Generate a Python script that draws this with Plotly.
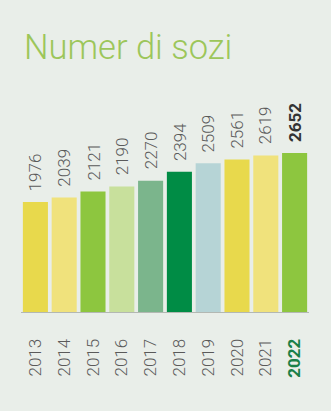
import plotly.graph_objects as go

# Membership by year
years = ["2013", "2014", "2015", "2016", "2017", "2018", "2019", "2020", "2021", "2022"]
members = [1976, 2039, 2121, 2190, 2270, 2394, 2509, 2561, 2619, 2652]
bar_colors = ["#e8d94c", "#f0e27c", "#8dc63f", "#c8e09c", "#7bb58c", "#008c45",
              "#b6d4d6", "#e8d94c", "#f0e27c", "#8dc63f"]

BG = "#e9eee9"
LABEL_GREY = "#5a5a5a"
FONT = "Roboto"

tick_text = [y if y != "2022" else "<b><span style='color:#1a8048'>2022</span></b>"
             for y in years]

fig = go.Figure()
fig.add_trace(go.Bar(
    x=years, y=members,
    marker=dict(color=bar_colors, line=dict(width=0)),
    width=0.87,
    hoverinfo="skip",
))

# Value labels above each bar, rotated
for i, (yr, v) in enumerate(zip(years, members)):
    txt = f"<b>{v}</b>" if yr == "2022" else str(v)
    fig.add_annotation(
        x=i, y=v, xref="x", yref="y",
        text=txt, textangle=-90, showarrow=False,
        xanchor="center", yanchor="bottom", yshift=9,
        font=dict(family=FONT, weight=300, size=17,
                  color="#333333" if yr == "2022" else LABEL_GREY),
    )

fig.update_layout(
    width=331, height=411,
    paper_bgcolor=BG, plot_bgcolor=BG,
    margin=dict(l=21, r=22, t=100, b=99),
    showlegend=False,
    title=dict(
        text="Numer di sozi",
        x=24 / 331, xanchor="left", xref="container",
        y=1 - 47 / 411, yanchor="middle", yref="container",
        font=dict(family="Roboto", weight=300, size=34.5, color="#9cc65a"),
    ),
    xaxis=dict(
        type="category",
        tickmode="array", tickvals=years, ticktext=tick_text,
        tickangle=-90, ticks="", ticklabelstandoff=19,
        tickfont=dict(family=FONT, weight=300, size=17, color=LABEL_GREY),
        showline=True, linecolor="#b3b8b3", linewidth=1,
        showgrid=False, zeroline=False,
        range=[-0.5, 9.5],
    ),
    yaxis=dict(
        range=[459, 3383], visible=False, showgrid=False, zeroline=False,
    ),
)

fig.write_html("out.html")
